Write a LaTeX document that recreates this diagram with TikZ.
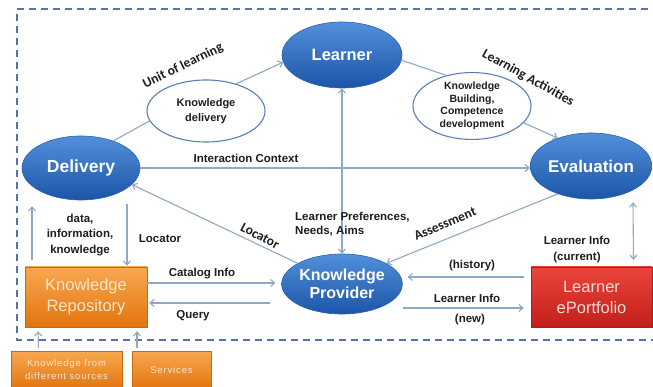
\documentclass[tikz,border=0pt]{standalone}
\usepackage{fontspec}
\setmainfont{Liberation Sans}
\newfontfamily\calfont{Carlito}
\usetikzlibrary{arrows.meta,calc,shapes.geometric}
\definecolor{arr}{HTML}{8FA8C8}
\definecolor{frame}{HTML}{5574A8}
\definecolor{bTop}{HTML}{5290DA}
\definecolor{bMid}{HTML}{2D6CC2}
\definecolor{bBot}{HTML}{1C55A8}
\definecolor{bEdge}{HTML}{2A60AC}
\definecolor{oTop}{HTML}{F8A850}
\definecolor{oBot}{HTML}{E2740E}
\definecolor{oTxt}{HTML}{FDE7CC}
\definecolor{rTop}{HTML}{EA453C}
\definecolor{rBot}{HTML}{C21F1B}
\definecolor{rTxt}{HTML}{FBDAD6}
\definecolor{wEdge}{HTML}{5B80B4}
\definecolor{txt}{HTML}{1E1E1E}
\begin{document}
\begin{tikzpicture}[x=1pt,y=-1pt,
  >={Straight Barb[length=4pt,width=7pt]},
  conn/.style={draw=arr,line width=1.1pt},
  bigell/.style={ellipse,inner sep=0,top color=bTop,middle color=bMid,bottom color=bBot,
    draw=bEdge,line width=0.6pt,text=white,align=center,
    font=\bfseries\fontsize{16.5}{18}\selectfont},
  whiteell/.style={ellipse,inner sep=0,fill=white,draw=wEdge,line width=1.1pt,
    text=txt,align=center,minimum width=118pt,minimum height=62pt},
  orbox/.style={rectangle,inner sep=0,top color=oTop,bottom color=oBot,draw=oBot!90!black,
    line width=0.4pt,text=oTxt,align=center},
  redbox/.style={rectangle,inner sep=0,top color=rTop,bottom color=rBot,draw=rBot!90!black,
    line width=0.4pt,text=rTxt,align=center,font=\fontsize{16.5}{21}\selectfont},
  lbl/.style={inner sep=0,text=txt,align=center,font=\bfseries\fontsize{11.5}{14}\selectfont},
  clbl/.style={inner sep=0,text=txt,font=\calfont\bfseries\fontsize{13.5}{15}\selectfont},
  smalltxt/.style={font=\addfontfeature{LetterSpace=9}\fontsize{9.5}{13}\selectfont},
  border/.style={draw=frame,line width=1.3pt,dash pattern=on 7pt off 5pt}]
\useasboundingbox (0,0) rectangle (653,387);
\fill[white] (0,0) rectangle (653,387);

% dashed frame (right side lies outside the picture)
\draw[border] (660,9) -- (17,9) -- (17,340) -- (660,340);

% main nodes
\node[bigell,minimum width=120pt,minimum height=66pt] (L) at (342,55) {Learner};
\node[bigell,minimum width=118pt,minimum height=64pt,font=\bfseries\fontsize{17.5}{19}\selectfont] (D) at (81,168) {Delivery};
\node[bigell,minimum width=117pt,minimum height=66pt,font=\bfseries\fontsize{17}{19}\selectfont] (E) at (591,166) {Evaluation};
\node[bigell,minimum width=116pt,minimum height=60pt,font=\bfseries\fontsize{16}{18}\selectfont] (KP) at (342,284) {Knowledge\\Provider};
\node[whiteell,font=\bfseries\fontsize{11}{15}\selectfont] (KD) at (206,111) {Knowledge\\delivery};
\node[whiteell,font=\bfseries\fontsize{10.5}{12.5}\selectfont] (KB) at (472,106) {Knowledge\\Building,\\Competence\\development};
\node[orbox,minimum width=122pt,minimum height=60pt,font=\fontsize{16.5}{21}\selectfont] (KR) at (86,297) {Knowledge\\Repository};
\node[redbox,minimum width=121pt,minimum height=60pt] (EP) at (591.5,297) {Learner\\ePortfolio};
\node[orbox,smalltxt,minimum width=111pt,minimum height=38pt] (S1) at (66.5,370) {Knowledge from\\different sources};
\node[orbox,smalltxt,minimum width=79pt,minimum height=38pt] (S2) at (171.5,370) {Services};

% connectors
\draw[conn] (D.40) -- (KD.190);
\draw[conn,->] (KD.42) -- (L.187);
\draw[conn] (L.355) -- (KB.130);
\draw[conn,->] (KB.342) -- (E.140);
\draw[conn,->] (D.east) -- (D.east -| E.west);
\draw[conn,<->] (L.south) -- (KP.north);
\draw[conn,->] (KP.155) -- (D.342);
\draw[conn,->] (E.220) -- (KP.25);
\draw[conn,->,shorten <=7pt,shorten >=5pt] ([yshift=20pt]EP.west) -- ([yshift=7pt]KP.east);
\draw[conn,->,shorten >=7pt] ([yshift=-24pt]KP.east) -- ([yshift=-11pt]EP.west);
\draw[conn,<->] ($(E.south)+(42,3)$) -- ($(EP.north)+(42,-7)$);
\draw[conn,->,shorten >=6pt] ([yshift=14pt]KR.east) -- ([yshift=1pt]KP.west);
\draw[conn,->] ($(KP.west)+(-11,19)$) -- ($(KR.east)+(2,6)$);
\draw[conn,->] ($(KR.north)+(-54,-7)$) -- ($(D.south)+(-49,6)$);
\draw[conn,->] ($(D.south)+(46,4)$) -- ($(KR.north)+(41,-1)$);
\draw[conn,->] ($(S1.north)+(-28,-3)$) -- ($(KR.south)+(-48,4)$);
\draw[conn,->] ($(S2.north)+(-34.5,-3)$) -- ($(KR.south)+(51,4)$);

% labels
\node[clbl,rotate=26] (tU) at (183,66) {Unit of learning};
\node[clbl,rotate=-29] (tLA) at (528,78) {Learning Activities};
\node[lbl] (tIC) at (246,158) {Interaction Context};
\node[lbl,anchor=west,align=left] (tLP) at (295,224) {Learner Preferences,\\Needs, Aims};
\node[clbl,rotate=-28] (tLoc) at (260,236) {Locator};
\node[clbl,rotate=23] (tAs) at (445,224) {Assessment};
\node[lbl] (tH) at (472,266) {(history)};
\node[lbl] (tLI) at (467,298) {Learner Info};
\node[lbl] (tN) at (470,320) {(new)};
\node[lbl,font=\bfseries\fontsize{11.5}{16}\selectfont] (tC) at (577,250) {Learner Info\\(current)};
\node[lbl] (tCat) at (202,274) {Catalog Info};
\node[lbl] (tQ) at (193,316) {Query};
\node[lbl,font=\bfseries\fontsize{11.5}{15.5}\selectfont] (tData) at (80,235) {data,\\information,\\knowledge};
\node[lbl] (tLoc2) at (160,239) {Locator};
\end{tikzpicture}
\end{document}
